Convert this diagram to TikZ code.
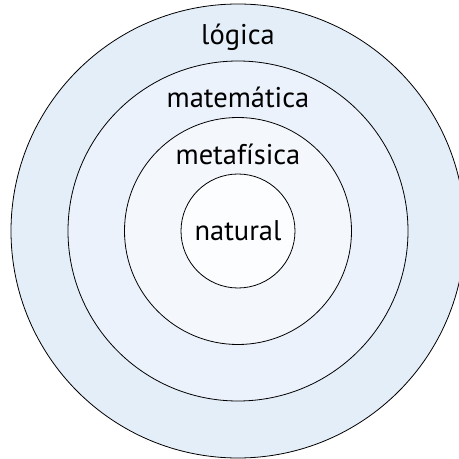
\documentclass[tikz,border=0pt]{standalone}
\usepackage{fontspec}
\setmainfont{PT Sans}
\usetikzlibrary{positioning}
\definecolor{ringA}{HTML}{E4EEF9}
\definecolor{ringB}{HTML}{ECF2FB}
\definecolor{ringC}{HTML}{F4F8FD}
\definecolor{ringD}{HTML}{FCFDFF}
\begin{document}
\begin{tikzpicture}[
          x=1pt, y=1pt,
          ring/.style={circle, draw=black, line width=0.8pt, inner sep=0pt},
          lbl/.style={font=\fontsize{28.5}{31}\selectfont, inner sep=0pt}
        ]
        \useasboundingbox (0,0) rectangle (459,459);
        \clip (0,0) rectangle (459,459);
        \node[ring, fill=ringA, minimum size=454] (logica) at (238,228) {};
        \node[ring, fill=ringB, minimum size=340] (matem) at (238,228) {};
        \node[ring, fill=ringC, minimum size=227] (metaf) at (238,228) {};
        \node[ring, fill=ringD, minimum size=114] (natur) at (238,228) {};
        \node[lbl] (tlogica) at (238,422) {lógica};
        \node[lbl] (tmatem) at (238,362) {matemática};
        \node[lbl] (tmetaf) at (238,305) {metafísica};
        \node[lbl] (tnatur) at (natur) {natural};
      \end{tikzpicture}
\end{document}
